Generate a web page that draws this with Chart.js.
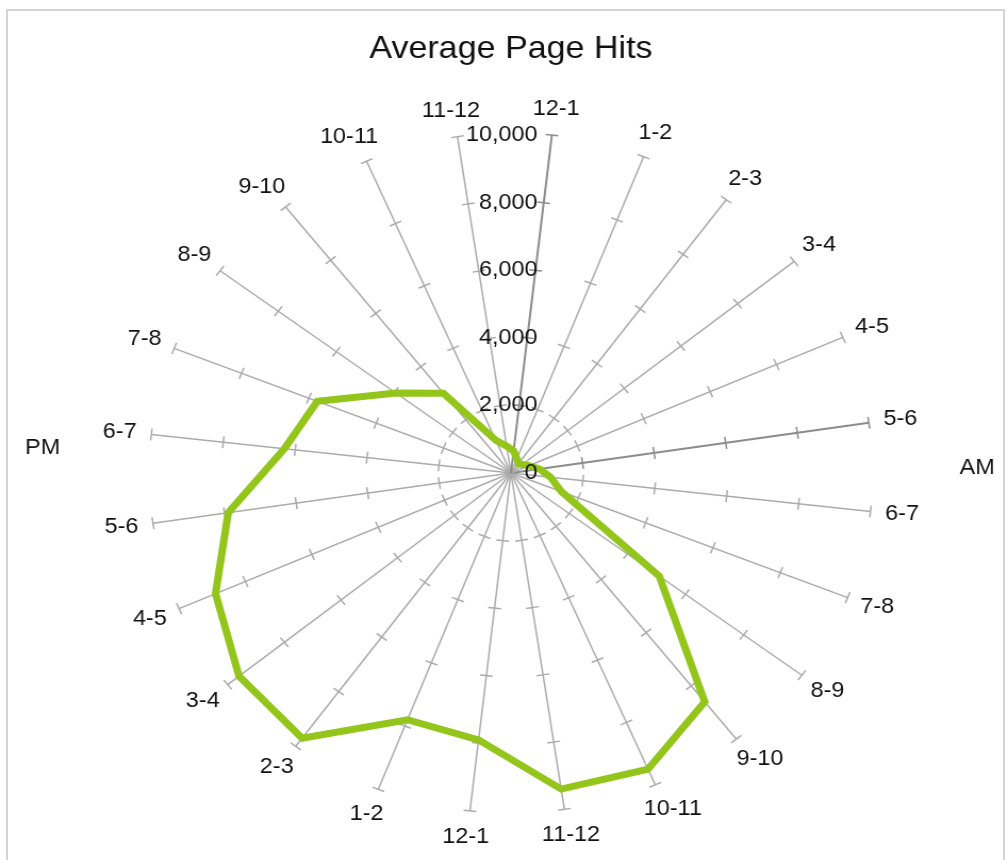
<!DOCTYPE html>
<html>
<head>
<meta charset="utf-8">
<title>Average Page Hits</title>
<script src="https://cdn.jsdelivr.net/npm/chart.js@4.4.1/dist/chart.umd.min.js"></script>
<style>
  html, body { margin: 0; padding: 0; background: #fff; overflow: hidden; }
  #frame {
    position: absolute; left: 6px; top: 9px; width: 995px; height: 900px;
    border: 2px solid #d4d4d4; border-bottom: none;
  }
  #hitsChart { position: absolute; left: 0; top: 0; }
</style>
</head>
<body>
<div id="frame"></div>
<!-- the reference is a little wider than tall, so the canvas is stretched (inline style keeps Chart.js from resetting it) -->
<canvas id="hitsChart" width="947" height="860" style="width: 1008px; height: 860px;"></canvas>
<script>
  const hourLabels = [
    "12-1", "1-2", "2-3", "3-4", "4-5", "5-6", "6-7", "7-8", "8-9", "9-10", "10-11", "11-12",
    "12-1", "1-2", "2-3", "3-4", "4-5", "5-6", "6-7", "7-8", "8-9", "9-10", "10-11", "11-12",
  ];
  const amHits = [650, 450, 350, 400, 550, 800, 1100, 1500, 5100, 8600, 9500, 9400];
  const pmHits = [7900, 7800, 9700, 9600, 8900, 7900, 6300, 5750, 3950, 3000, 1050, 800];
  const axisTicks = [0, 2000, 4000, 6000, 8000, 10000];
  const halfLabels = ["AM", "PM"];

  const FONT = "'Liberation Sans', Arial, sans-serif";
  const TEXT = "#111111";

  function spokeColor(i) {
    return i === 0 || i === 5 ? "#8c8c8c" : "#ababab";
  }

  function spokeWidth(i) {
    return i === 0 || i === 5 ? 2 : 1.5;
  }

  // short cross marks on every spoke, like the axis tick marks of the original
  const spokeMarks = {
    id: "spokeMarks",
    beforeDatasetsDraw(chart) {
      const scale = chart.scales.r;
      const ctx = chart.ctx;
      ctx.save();
      for (let i = 0; i < hourLabels.length; i++) {
        const a = scale.getIndexAngle(i) - Math.PI / 2;
        const px = -Math.sin(a);
        const py = Math.cos(a);
        ctx.strokeStyle = spokeColor(i);
        ctx.lineWidth = 1.5;
        for (const v of axisTicks) {
          if (v === 0) continue;
          const p = scale.getPointPositionForValue(i, v);
          ctx.beginPath();
          ctx.moveTo(p.x - px * 6, p.y - py * 6);
          ctx.lineTo(p.x + px * 6, p.y + py * 6);
          ctx.stroke();
        }
      }
      ctx.restore();
    },
    afterDatasetsDraw(chart) {
      const scale = chart.scales.r;
      const ctx = chart.ctx;
      ctx.save();
      ctx.font = "22px " + FONT;
      ctx.fillStyle = TEXT;
      ctx.textBaseline = "middle";

      // hour labels, centred just beyond the end of each spoke
      ctx.textAlign = "center";
      hourLabels.forEach((label, i) => {
        const ang = scale.getIndexAngle(i);
        const p = scale.getPointPosition(i, scale.drawingArea + 14);
        const w = ctx.measureText(label).width;
        ctx.fillText(label, p.x + Math.sin(ang) * w / 2, p.y - Math.cos(ang) * 12);
      });

      // value labels along the first spoke
      ctx.textAlign = "right";
      for (const v of axisTicks) {
        const p = scale.getPointPositionForValue(0, v);
        ctx.fillText(v.toLocaleString("en-US"), scale.xCenter + 25, p.y);
      }

      ctx.textAlign = "center";
      ctx.fillText(halfLabels[0], scale.xCenter + 438, scale.yCenter - 5);
      ctx.fillText(halfLabels[1], scale.xCenter - 440, scale.yCenter - 25);
      ctx.restore();
    },
  };

  const canvas = document.getElementById("hitsChart");
  new Chart(canvas.getContext("2d"), {
    type: "radar",
    data: {
      labels: hourLabels,
      datasets: [
        {
          label: "Average Page Hits",
          data: amHits.concat(pmHits),
          borderColor: "#93c51b",
          backgroundColor: "transparent",
          borderWidth: 7,
          pointRadius: 0,
          fill: false,
          tension: 0,
        },
      ],
    },
    options: {
      responsive: false,
      animation: false,
      layout: { padding: { left: 130, right: 117, top: 0, bottom: 46 } },
      plugins: {
        legend: { display: false },
        tooltip: { enabled: false },
        title: {
          display: true,
          text: "Average Page Hits",
          color: TEXT,
          font: { family: FONT, size: 32, weight: "normal" },
          padding: { top: 30, bottom: 64 },
        },
      },
      scales: {
        r: {
          min: 0,
          max: 10000,
          startAngle: 6.5,
          ticks: { display: false, stepSize: 2000 },
          grid: { display: false },
          angleLines: {
            color: (ctx) => spokeColor(ctx.index),
            lineWidth: (ctx) => spokeWidth(ctx.index),
          },
          pointLabels: { display: false },
        },
      },
    },
    plugins: [spokeMarks],
  });
</script>
</body>
</html>
